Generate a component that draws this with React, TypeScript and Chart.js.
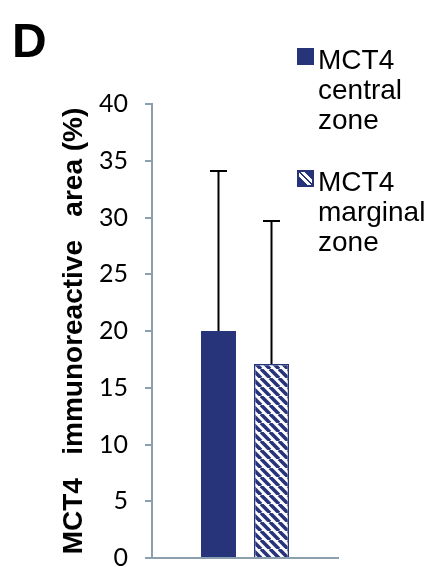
import React, { useEffect, useRef } from 'react';
import { Chart, registerables } from 'chart.js';

Chart.register(...registerables);

// ---- data ----
const categories: string[] = [''];
const seriesNames: string[] = ['MCT4 central zone', 'MCT4 marginal zone'];
const legendLines: string[][] = [
  ['MCT4', 'central', 'zone'],
  ['MCT4', 'marginal', 'zone'],
];
const centralValues: number[] = [20.0];
const marginalValues: number[] = [17.1];
const centralErrors: number[] = [14.1];
const marginalErrors: number[] = [12.6];
const yTickValues: number[] = [0, 5, 10, 15, 20, 25, 30, 35, 40];
const yAxisTitle = 'MCT4   immunoreactive   area (%)';
const panelLabel = 'D';

const BLUE = '#283479';
const AXIS = '#8c9fae';

function makeHatch(): CanvasPattern | string {
  const s = 9;
  const c = document.createElement('canvas');
  c.width = s;
  c.height = s;
  const g = c.getContext('2d');
  if (!g) return BLUE;
  g.fillStyle = '#ffffff';
  g.fillRect(0, 0, s, s);
  g.strokeStyle = BLUE;
  g.lineWidth = 3.6;
  g.beginPath();
  for (const k of [-1, 0, 1]) {
    g.moveTo(k * s, 0);
    g.lineTo(k * s + s, s);
  }
  g.stroke();
  const p = g.createPattern(c, 'repeat');
  return p || BLUE;
}

const errorBarPlugin = {
  id: 'errorBars',
  afterDatasetsDraw(chart: any) {
    const ctx = chart.ctx;
    const yScale = chart.scales.y;
    chart.data.datasets.forEach((ds: any, i: number) => {
      const meta = chart.getDatasetMeta(i);
      meta.data.forEach((bar: any, j: number) => {
        const v = ds.data[j];
        const e = ds.errors[j];
        const yTop = yScale.getPixelForValue(v + e);
        ctx.save();
        ctx.strokeStyle = '#000';
        ctx.lineWidth = 2;
        ctx.beginPath();
        ctx.moveTo(bar.x, bar.y);
        ctx.lineTo(bar.x, yTop);
        ctx.moveTo(bar.x - 8.5, yTop);
        ctx.lineTo(bar.x + 8.5, yTop);
        ctx.stroke();
        ctx.restore();
      });
    });
  },
};

export default function App() {
  const ref = useRef<HTMLCanvasElement | null>(null);

  useEffect(() => {
    const canvas = ref.current;
    if (!canvas) return;
    const chart = new Chart(canvas, {
      type: 'bar',
      data: {
        labels: categories,
        datasets: [
          {
            label: seriesNames[0],
            data: centralValues,
            errors: centralErrors,
            backgroundColor: BLUE,
            borderColor: BLUE,
            borderWidth: 0,
          } as any,
          {
            label: seriesNames[1],
            data: marginalValues,
            errors: marginalErrors,
            backgroundColor: makeHatch(),
            borderColor: BLUE,
            borderWidth: 1.5,
          } as any,
        ],
      },
      options: {
        animation: false,
        responsive: false,
        maintainAspectRatio: false,
        devicePixelRatio: 1,
        categoryPercentage: 0.57,
        barPercentage: 0.66,
        layout: { padding: { left: 53, right: 95, top: 104, bottom: 42 } },
        plugins: {
          legend: { display: false },
          tooltip: { enabled: false },
        },
        scales: {
          x: {
            grid: { display: false },
            ticks: { display: false },
            border: { display: true, color: AXIS, width: 2 },
            afterFit: (s: any) => {
              s.height = 0;
            },
          },
          y: {
            min: 0,
            max: 40,
            afterBuildTicks: (s: any) => {
              s.ticks = yTickValues.map((v) => ({ value: v }));
            },
            ticks: {
              padding: 17,
              color: '#000',
              font: { family: 'Lato', size: 25 },
            },
            grid: {
              display: true,
              drawOnChartArea: false,
              drawTicks: true,
              tickLength: 7,
              color: AXIS,
              tickColor: AXIS,
              lineWidth: 2,
            },
            border: { display: true, color: AXIS, width: 2 },
            title: {
              display: true,
              text: yAxisTitle,
              color: '#000',
              font: { family: 'Liberation Sans', size: 28, weight: 'bold' },
              padding: { top: 4, bottom: 4 },
            },
            afterFit: (s: any) => {
              s.width = 99;
            },
          },
        },
      } as any,
      plugins: [errorBarPlugin],
    });
    return () => chart.destroy();
  }, []);

  const swatchStyle = (i: number): React.CSSProperties => ({
    position: 'absolute',
    left: 0,
    top: 3,
    width: 17,
    height: 17,
    boxSizing: 'border-box',
    background:
      i === 0
        ? BLUE
        : `linear-gradient(45deg, ${BLUE} 0 32%, #fff 32% 47%, ${BLUE} 47% 55%, #fff 55% 70%, ${BLUE} 70%)`,
    border: i === 0 ? 'none' : `2px solid ${BLUE}`,
  });

  return (
    <div
      style={{
        position: 'absolute',
        left: 0,
        top: 0,
        width: 433,
        height: 567,
        overflow: 'hidden',
        background: '#fff',
      }}
    >
      <canvas
        ref={ref}
        width={433}
        height={600}
        style={{ position: 'absolute', left: 0, top: 0, width: 433, height: 600 }}
      />
      <div
        style={{
          position: 'absolute',
          left: 12,
          top: 17,
          fontFamily: 'Liberation Sans, Arial, sans-serif',
          fontWeight: 'bold',
          fontSize: 48,
          lineHeight: '48px',
          color: '#000',
        }}
      >
        {panelLabel}
      </div>
      {legendLines.map((lines, i) => (
        <div
          key={i}
          style={{
            position: 'absolute',
            left: 297,
            top: i === 0 ? 45 : 167,
            width: 136,
          }}
        >
          <div style={swatchStyle(i)} />
          <div
            style={{
              marginLeft: 21,
              fontFamily: 'Liberation Sans, Arial, sans-serif',
              fontSize: 28,
              lineHeight: '30px',
              color: '#000',
            }}
          >
            {lines.map((l, k) => (
              <div key={k}>{l}</div>
            ))}
          </div>
        </div>
      ))}
    </div>
  );
}
